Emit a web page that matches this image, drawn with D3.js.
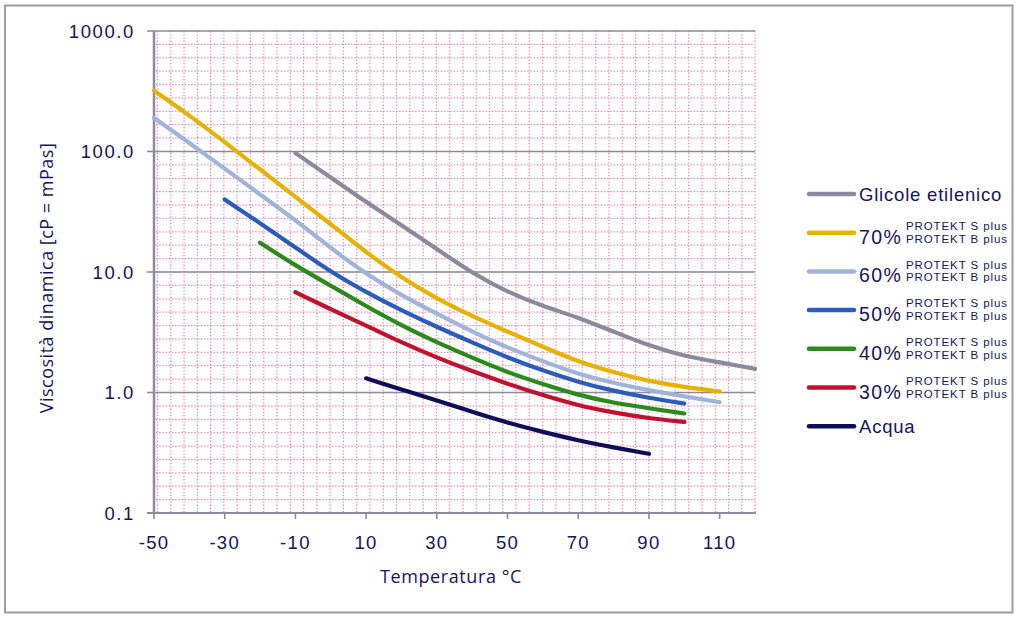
<!DOCTYPE html>
<html><head><meta charset="utf-8">
<script src="https://cdn.jsdelivr.net/npm/d3@7"></script>
<style>body{margin:0;background:#fff}</style>
</head><body><svg id="c" width="1024" height="622"></svg>
<script>
// ---- data ----
const seriesLabels = ["Glicole etilenico","70%","60%","50%","40%","30%","Acqua"];
const seriesColors = ["#8a8a9c","#e6b200","#9fb4d8","#2b5db8","#2c8a1c","#c0122f","#0e0e57"];
const glicoleT = [-10,0,10,20,30,40,50,60,70,80,90,100,110,120];
const glicoleV = [97,61,38,24.5,15.5,9.8,6.8,5.2,4.2,3.2,2.45,2.0,1.78,1.57];
const p70T = [-50,-40,-30,-20,-10,0,10,20,30,40,50,60,70,80,90,100,110];
const p70V = [320,200,120,71,42,25,14.5,9.0,6.0,4.3,3.2,2.4,1.8,1.47,1.24,1.11,1.02];
const p60T = [-50,-40,-30,-20,-10,0,10,20,30,40,50,60,70,80,90,100,110];
const p60V = [190,118,72,44,27,15.8,9.6,6.4,4.5,3.2,2.35,1.82,1.42,1.2,1.04,0.93,0.83];
const p50T = [-30,-20,-10,0,10,20,30,40,50,60,70,80,90,100];
const p50V = [40,25.5,16,10,6.8,4.8,3.5,2.6,1.95,1.52,1.22,1.03,0.9,0.81];
const p40T = [-20,-10,0,10,20,30,40,50,60,70,80,90,100];
const p40V = [17.5,11.3,7.7,5.2,3.6,2.6,1.94,1.47,1.17,0.95,0.82,0.74,0.67];
const p30T = [-10,0,10,20,30,40,50,60,70,80,90,100];
const p30V = [6.8,4.9,3.6,2.6,1.95,1.5,1.18,0.95,0.78,0.68,0.61,0.57];
const acquaT = [10,20,30,40,50,60,70,80,90];
const acquaV = [1.31,1.06,0.86,0.69,0.56,0.47,0.40,0.35,0.31];
const xTicks = [-50,-30,-10,10,30,50,70,90,110];
const yTicks = [0.1,1,10,100,1000];
const yTickLabels = ["0.1","1.0","10.0","100.0","1000.0"];
const subLine1 = "PROTEKT S plus";
const subLine2 = "PROTEKT B plus";
const xTitle = "Temperatura °C";
const yTitle = "Viscosità dinamica [cP = mPas]";

const seriesT = [glicoleT,p70T,p60T,p50T,p40T,p30T,acquaT];
const seriesV = [glicoleV,p70V,p60V,p50V,p40V,p30V,acquaV];

// ---- layout ----
const svg = d3.select("#c");
const TXT = "#15155c", AX = "#8b8b9b";
const x = d3.scaleLinear().domain([-50,120]).range([154,755]);
const y = d3.scaleLog().domain([0.1,1000]).range([513,31]);

svg.append("rect").attr("width",1024).attr("height",622).attr("fill","#fff");
svg.append("rect").attr("x",5).attr("y",5.5).attr("width",1007.5).attr("height",607)
  .attr("fill","none").attr("stroke","#9c9ca8").attr("stroke-width",2);

// minor dotted "graph paper" grid
const g = svg.append("g");
const hStep = (y(0.1)-y(1))/9;
for (let py = y(1000)+hStep; py < y(0.1)-1; py += hStep) {
  g.append("line").attr("x1",x(-50)+2).attr("x2",x(120)).attr("y1",py).attr("y2",py)
   .attr("stroke","#ee7fa0").attr("stroke-width",1.2).attr("stroke-dasharray","1.3,1.9");
}
for (let px = x(-50)+3.5; px <= x(120)+0.5; px += 13.28) {
  g.append("line").attr("x1",px).attr("x2",px).attr("y1",y(1000)).attr("y2",y(0.1))
   .attr("stroke","#ee7fa0").attr("stroke-width",1.2).attr("stroke-dasharray","1.3,1.9");
}
// major horizontal gridlines
yTicks.slice(1).forEach(v=>{
  g.append("line").attr("x1",x(-50)-7).attr("x2",x(120)).attr("y1",y(v)).attr("y2",y(v))
   .attr("stroke",AX).attr("stroke-width",1.6);
});
// axes
svg.append("line").attr("x1",x(-50)).attr("x2",x(-50)).attr("y1",y(1000)).attr("y2",y(0.1))
  .attr("stroke",AX).attr("stroke-width",2.5);
svg.append("line").attr("x1",x(-50)-7).attr("x2",x(120)+1).attr("y1",y(0.1)).attr("y2",y(0.1))
  .attr("stroke",AX).attr("stroke-width",2);
xTicks.forEach(t=>{
  svg.append("line").attr("x1",x(t)).attr("x2",x(t)).attr("y1",y(0.1)).attr("y2",y(0.1)+6)
    .attr("stroke",AX).attr("stroke-width",1.6);
  svg.append("text").attr("x",x(t)).attr("y",548.5).attr("text-anchor","middle")
    .attr("font-family","Liberation Sans, Arial, sans-serif").attr("font-size",18.5)
    .attr("letter-spacing",1.3).attr("fill",TXT).text(t);
});
yTicks.forEach((v,i)=>{
  svg.append("text").attr("x",135).attr("y",y(v)+6.7).attr("text-anchor","end")
    .attr("font-family","Liberation Sans, Arial, sans-serif").attr("font-size",18.5)
    .attr("letter-spacing",1.6).attr("fill",TXT).text(yTickLabels[i]);
});
// axis titles
svg.append("text").attr("x",451).attr("y",583).attr("text-anchor","middle")
  .attr("font-family","Open Sans, sans-serif").attr("font-size",18).attr("letter-spacing",0.6)
  .attr("fill",TXT).text(xTitle);
svg.append("text").attr("transform","translate(53,278) rotate(-90)").attr("text-anchor","middle")
  .attr("font-family","Open Sans, sans-serif").attr("font-size",18).attr("letter-spacing",0.5)
  .attr("fill",TXT).text(yTitle);

// curves
const line = d3.line().x(d=>x(d[0])).y(d=>y(d[1])).curve(d3.curveBasis);
seriesT.forEach((ts,i)=>{
  const pts = ts.map((t,j)=>[t,seriesV[i][j]]);
  svg.append("path").attr("d",line(pts)).attr("fill","none").attr("stroke",seriesColors[i])
    .attr("stroke-width",4.2).attr("stroke-linecap","round").attr("stroke-linejoin","round");
});

// legend
const lg = svg.append("g");
seriesLabels.forEach((name,i)=>{
  const ly = 194 + i*38.7;
  lg.append("line").attr("x1",809).attr("x2",854).attr("y1",ly).attr("y2",ly)
    .attr("stroke",seriesColors[i]).attr("stroke-width",4.5).attr("stroke-linecap","round");
  const pct = name.endsWith("%");
  lg.append("text").attr("x",859).attr("y",pct? ly+11 : ly+6.6)
    .attr("font-family","Liberation Sans, Arial, sans-serif").attr("font-size",pct?19.5:18.5)
    .attr("letter-spacing",pct?1.4:0.8).attr("fill",TXT).text(name);
  if (pct) {
    lg.append("text").attr("x",906).attr("y",ly-2.8)
      .attr("font-family","Liberation Sans, Arial, sans-serif").attr("font-size",11.5)
      .attr("letter-spacing",0.9).attr("fill",TXT).text(subLine1);
    lg.append("text").attr("x",906).attr("y",ly+10)
      .attr("font-family","Liberation Sans, Arial, sans-serif").attr("font-size",11.5)
      .attr("letter-spacing",0.9).attr("fill",TXT).text(subLine2);
  }
});
</script></body></html>
